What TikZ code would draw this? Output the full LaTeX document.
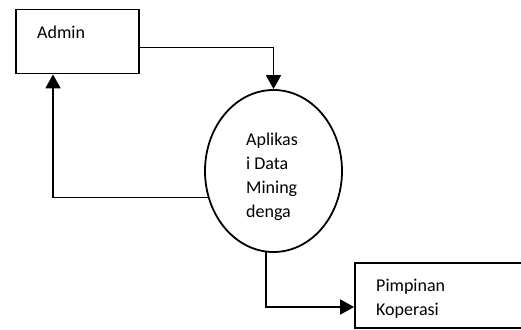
\documentclass[tikz,border=0pt]{standalone}
\usepackage{fontspec}
\setmainfont{Carlito}
\usetikzlibrary{arrows.meta,shapes.geometric}

\begin{document}
\begin{tikzpicture}[x=1pt,y=-1pt,
		ent/.style={draw,line width=1.8pt,inner sep=0pt},
		lbl/.style={anchor=base west,inner sep=0pt,font=\fontsize{18}{24}\selectfont,align=left},
		flow/.style={line width=1.8pt,-{Triangle[width=15pt,length=14pt]}}]
		\useasboundingbox (0,0) rectangle (521,329);
		\node[ent,minimum width=123pt,minimum height=64pt] (admin) at (77.5,41.5) {};
		\node[ent,ellipse,minimum width=137pt,minimum height=162pt] (app) at (273.5,171) {};
		\node[ent,minimum width=167pt,minimum height=65pt] (pimp) at (438.5,295.5) {};
		\node[lbl] (admintxt) at (37,38) {Admin};
		% base of a multi-line node sits on its last line
		\node[lbl] (apptxt) at (246,217) {Aplikas\\i Data\\Mining\\denga};
		\node[lbl] (pimptxt) at (376,315.5) {Pimpinan\\Koperasi};
		
		\draw[flow] ([yshift=-6pt]admin.east) -| (app.north);
		\draw[flow] (app.202) -| ([xshift=-24.5pt]admin.south);
		\draw[flow] (app.265) |- ([yshift=-11.5pt]pimp.west);
	\end{tikzpicture}
\end{document}
